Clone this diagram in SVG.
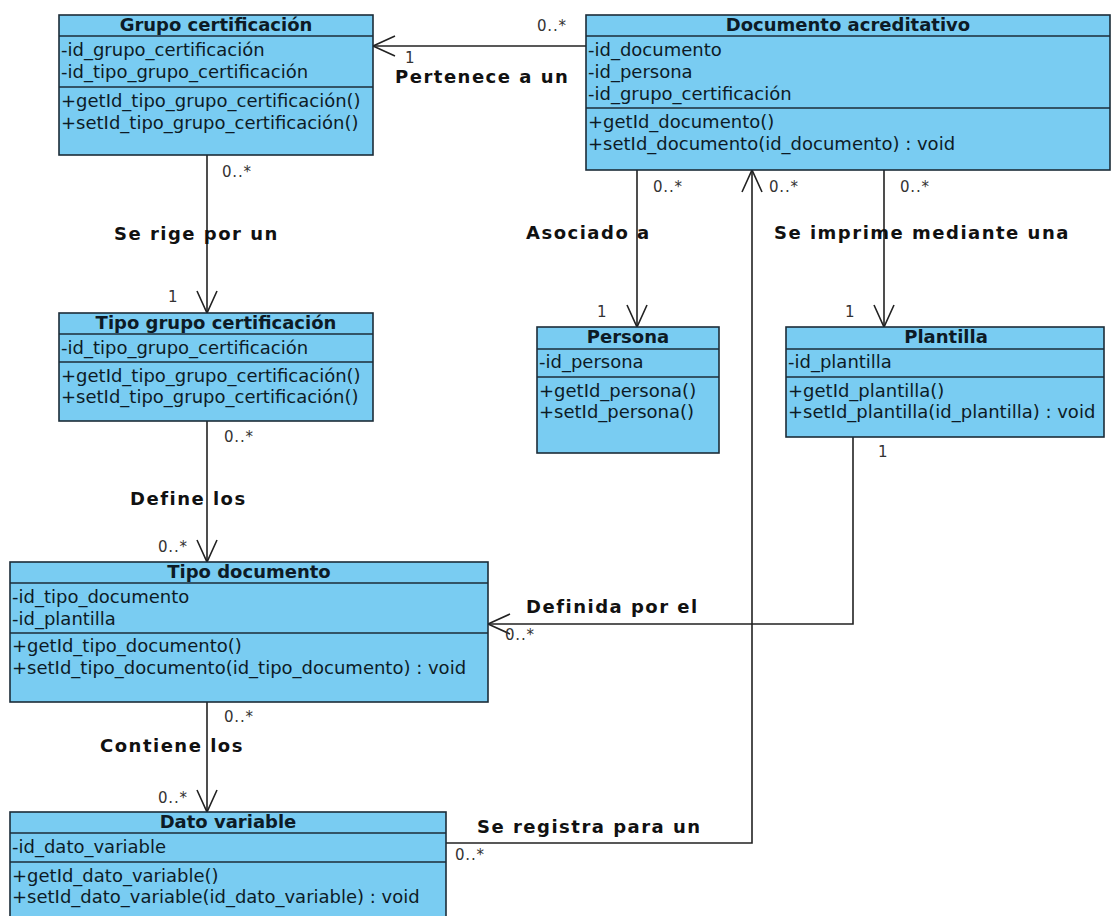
<svg xmlns="http://www.w3.org/2000/svg" width="1112" height="916" viewBox="0 0 1112 916">
<style>
.box{fill:#79ccf2;stroke:#1c2c38;stroke-width:1.6}
.sep{stroke:#1c2c38;stroke-width:1.6}
.t{font-family:"DejaVu Sans",sans-serif;font-size:18px;fill:#0d1b26}
.ttl{font-family:"DejaVu Sans",sans-serif;font-size:18px;font-weight:bold;fill:#0d1b26;text-anchor:middle}
.con{fill:none;stroke:#222;stroke-width:1.6}
.lbl{font-family:"DejaVu Sans",sans-serif;font-size:18px;font-weight:bold;fill:#111;letter-spacing:1.5px}
.m{font-family:"DejaVu Sans",sans-serif;font-size:15px;fill:#333;letter-spacing:0.8px}
</style>
<defs>
<marker id="open" viewBox="0 0 24 22" refX="22" refY="11" markerWidth="24" markerHeight="22" markerUnits="userSpaceOnUse" orient="auto" overflow="visible">
<path d="M0,1 L22,11 L0,21" fill="none" stroke="#222" stroke-width="1.6"/>
</marker>
</defs>
<rect width="1112" height="916" fill="#fff"/>

<g id="connectors">
<path class="con" d="M586,46 L373,46" marker-end="url(#open)"/>
<path class="con" d="M207,155 L207,313" marker-end="url(#open)"/>
<path class="con" d="M207,421 L207,562" marker-end="url(#open)"/>
<path class="con" d="M207,702 L207,812" marker-end="url(#open)"/>
<path class="con" d="M637,170 L637,327" marker-end="url(#open)"/>
<path class="con" d="M884,170 L884,327" marker-end="url(#open)"/>
<path class="con" d="M853,437 L853,624 L488,624" marker-end="url(#open)"/>
<path class="con" d="M446,843 L752,843 L752,170" marker-end="url(#open)"/>

<text class="m" x="537" y="31">0..*</text>
<text class="m" x="405" y="63">1</text>
<text class="lbl" x="395" y="83">Pertenece a un</text>

<text class="m" x="222" y="177">0..*</text>
<text class="lbl" x="114" y="240">Se rige por un</text>
<text class="m" x="168" y="302">1</text>

<text class="m" x="224" y="442">0..*</text>
<text class="lbl" x="130" y="505">Define los</text>
<text class="m" x="158" y="552">0..*</text>

<text class="m" x="224" y="722">0..*</text>
<text class="lbl" x="100" y="752">Contiene los</text>
<text class="m" x="158" y="803">0..*</text>

<text class="m" x="653" y="192">0..*</text>
<text class="lbl" x="526" y="239">Asociado a</text>
<text class="m" x="597" y="317">1</text>

<text class="m" x="900" y="192">0..*</text>
<text class="lbl" x="774" y="239">Se imprime mediante una</text>
<text class="m" x="845" y="317">1</text>

<text class="m" x="769" y="192">0..*</text>
<text class="lbl" x="477" y="833">Se registra para un</text>
<text class="m" x="455" y="860">0..*</text>

<text class="m" x="878" y="457">1</text>
<text class="lbl" x="526" y="613">Definida por el</text>
<text class="m" x="505" y="640">0..*</text>
</g>

<g id="grupo-certificacion">
<rect class="box" x="59" y="15" width="314" height="140"/>
<line class="sep" x1="59" y1="36" x2="373" y2="36"/>
<line class="sep" x1="59" y1="87" x2="373" y2="87"/>
<text class="ttl" x="216" y="31">Grupo certificación</text>
<text class="t" x="61" y="56">-id_grupo_certificación</text>
<text class="t" x="61" y="78">-id_tipo_grupo_certificación</text>
<text class="t" x="61" y="107">+getId_tipo_grupo_certificación()</text>
<text class="t" x="61" y="129">+setId_tipo_grupo_certificación()</text>
</g>

<g id="documento-acreditativo">
<rect class="box" x="586" y="15" width="524" height="155"/>
<line class="sep" x1="586" y1="36" x2="1110" y2="36"/>
<line class="sep" x1="586" y1="108" x2="1110" y2="108"/>
<text class="ttl" x="848" y="31">Documento acreditativo</text>
<text class="t" x="588" y="56">-id_documento</text>
<text class="t" x="588" y="78">-id_persona</text>
<text class="t" x="588" y="100">-id_grupo_certificación</text>
<text class="t" x="588" y="128">+getId_documento()</text>
<text class="t" x="588" y="150">+setId_documento(id_documento) : void</text>
</g>

<g id="tipo-grupo-certificacion">
<rect class="box" x="59" y="313" width="314" height="108"/>
<line class="sep" x1="59" y1="334" x2="373" y2="334"/>
<line class="sep" x1="59" y1="362" x2="373" y2="362"/>
<text class="ttl" x="216" y="329">Tipo grupo certificación</text>
<text class="t" x="61" y="354">-id_tipo_grupo_certificación</text>
<text class="t" x="61" y="382">+getId_tipo_grupo_certificación()</text>
<text class="t" x="61" y="403">+setId_tipo_grupo_certificación()</text>
</g>

<g id="persona">
<rect class="box" x="537" y="327" width="182" height="126"/>
<line class="sep" x1="537" y1="349" x2="719" y2="349"/>
<line class="sep" x1="537" y1="377" x2="719" y2="377"/>
<text class="ttl" x="628" y="343">Persona</text>
<text class="t" x="539" y="368">-id_persona</text>
<text class="t" x="539" y="397">+getId_persona()</text>
<text class="t" x="539" y="418">+setId_persona()</text>
</g>

<g id="plantilla">
<rect class="box" x="786" y="327" width="318" height="110"/>
<line class="sep" x1="786" y1="349" x2="1104" y2="349"/>
<line class="sep" x1="786" y1="377" x2="1104" y2="377"/>
<text class="ttl" x="946" y="343">Plantilla</text>
<text class="t" x="788" y="368">-id_plantilla</text>
<text class="t" x="788" y="397">+getId_plantilla()</text>
<text class="t" x="788" y="418">+setId_plantilla(id_plantilla) : void</text>
</g>

<g id="tipo-documento">
<rect class="box" x="10" y="562" width="478" height="140"/>
<line class="sep" x1="10" y1="583" x2="488" y2="583"/>
<line class="sep" x1="10" y1="633" x2="488" y2="633"/>
<text class="ttl" x="249" y="578">Tipo documento</text>
<text class="t" x="12" y="603">-id_tipo_documento</text>
<text class="t" x="12" y="625">-id_plantilla</text>
<text class="t" x="12" y="652">+getId_tipo_documento()</text>
<text class="t" x="12" y="674">+setId_tipo_documento(id_tipo_documento) : void</text>
</g>

<g id="dato-variable">
<rect class="box" x="10" y="812" width="436" height="120"/>
<line class="sep" x1="10" y1="833" x2="446" y2="833"/>
<line class="sep" x1="10" y1="862" x2="446" y2="862"/>
<text class="ttl" x="228" y="828">Dato variable</text>
<text class="t" x="12" y="853">-id_dato_variable</text>
<text class="t" x="12" y="882">+getId_dato_variable()</text>
<text class="t" x="12" y="903">+setId_dato_variable(id_dato_variable) : void</text>
</g>
</svg>
